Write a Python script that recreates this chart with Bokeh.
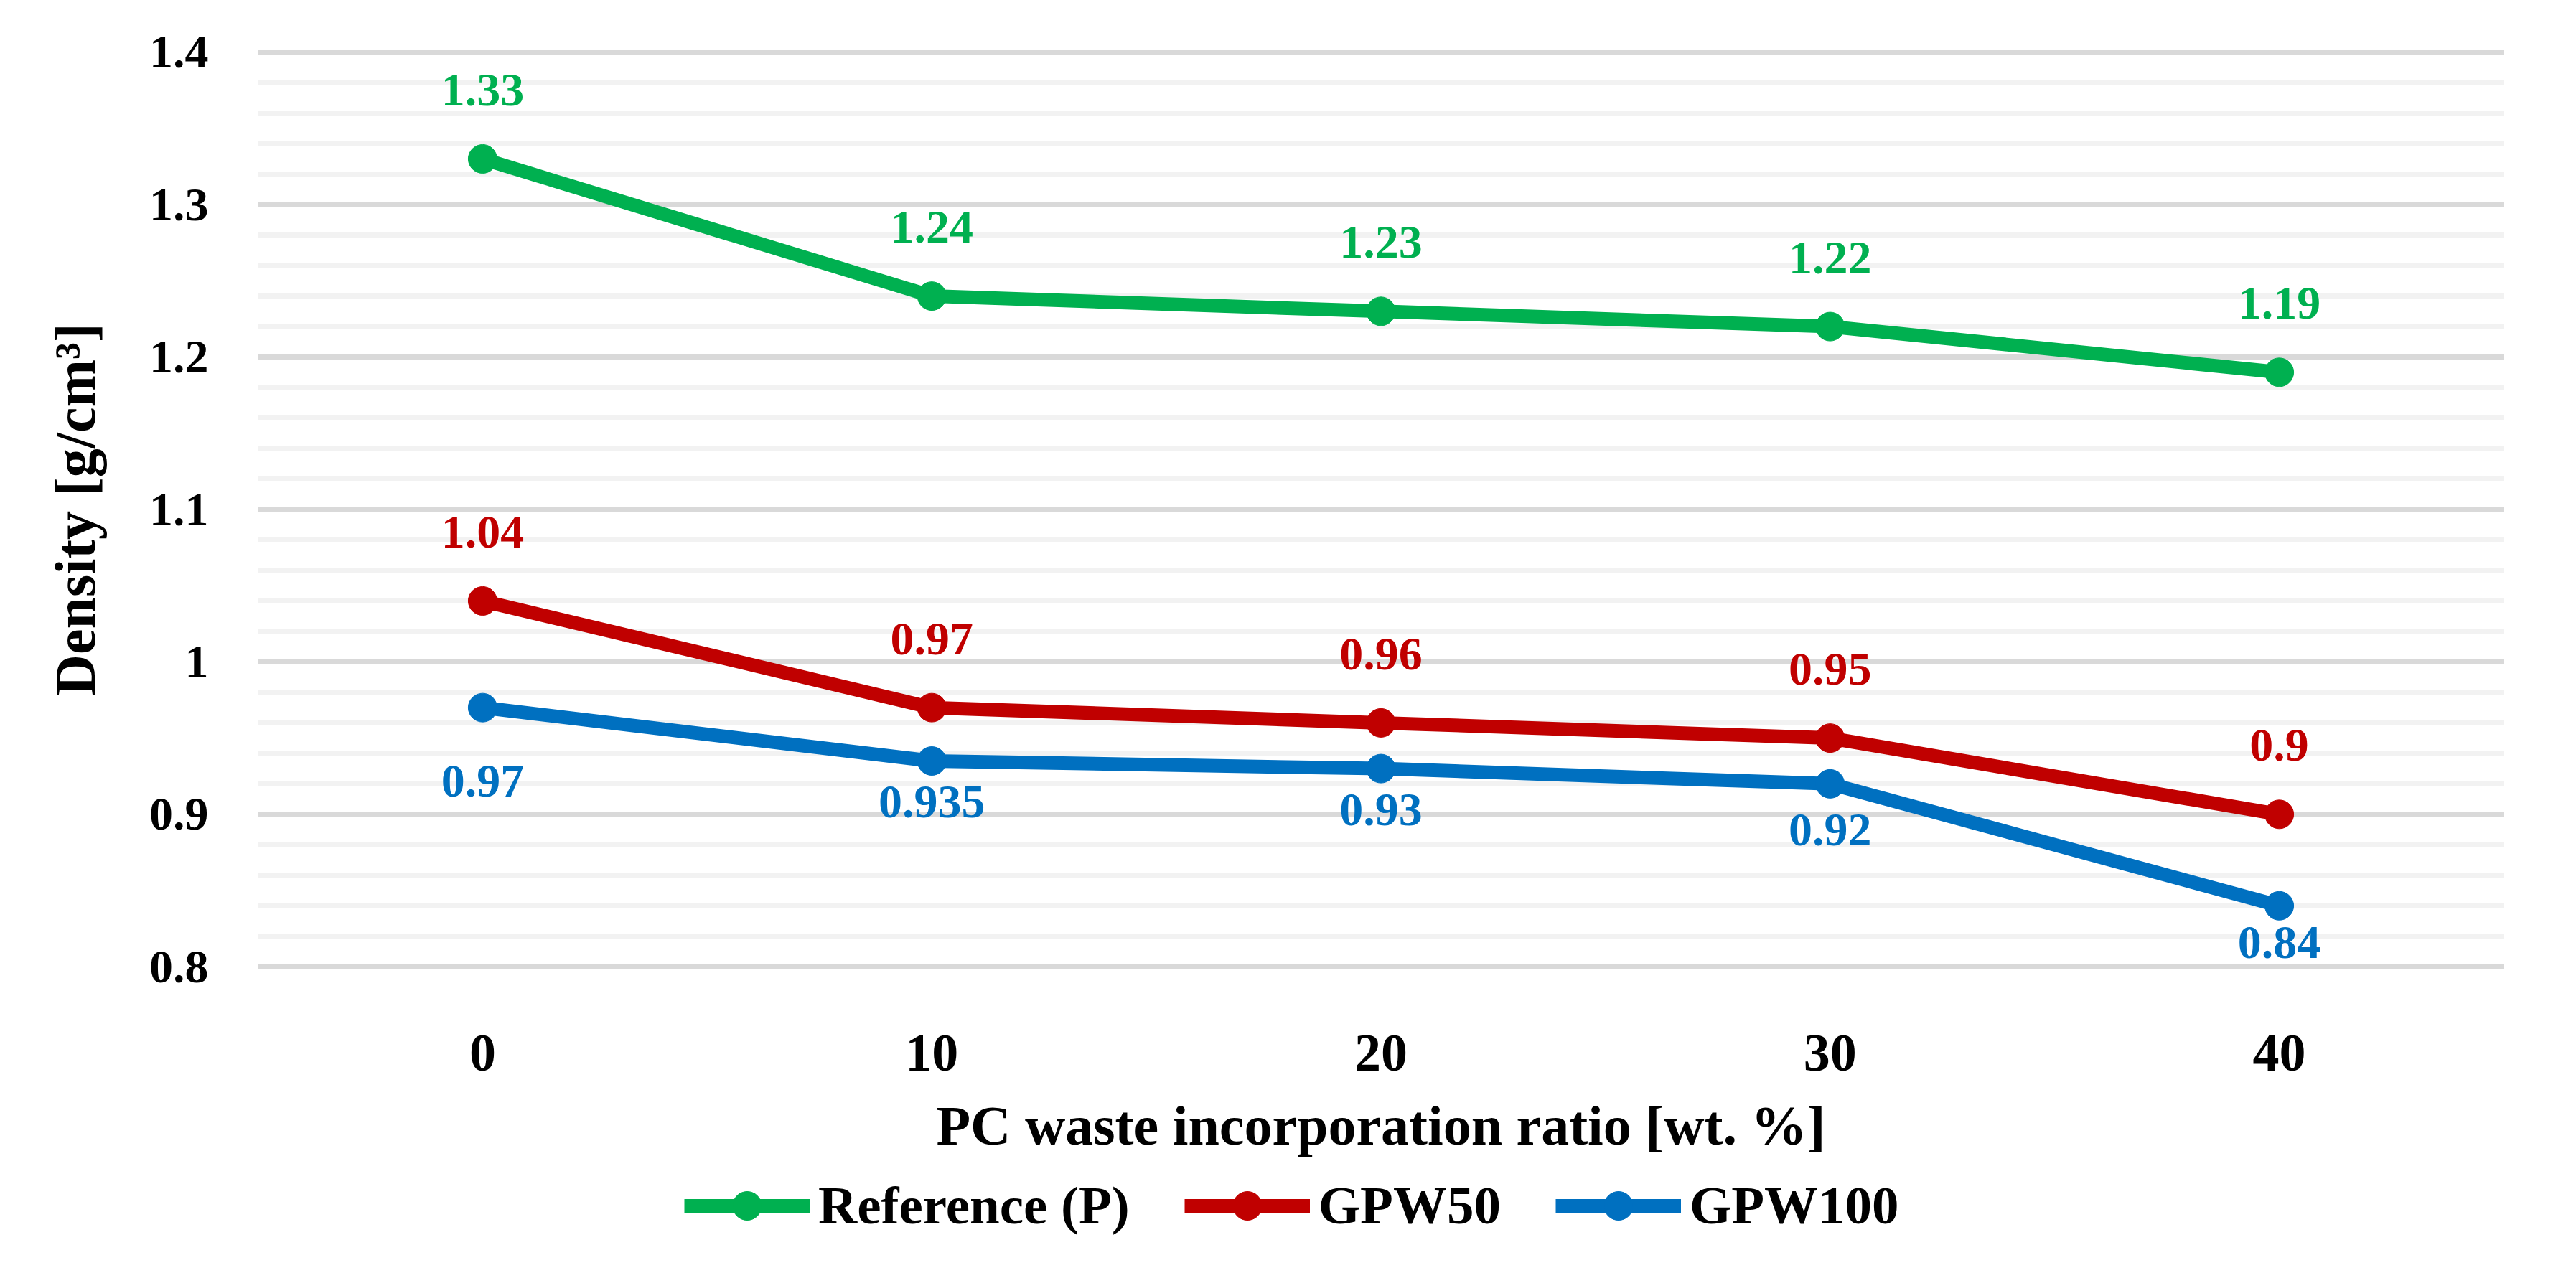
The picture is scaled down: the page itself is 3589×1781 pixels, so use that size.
from bokeh.plotting import figure
from bokeh.layouts import column
from bokeh.models import (ColumnDataSource, LabelSet, Legend, LegendItem,
                          FixedTicker, CustomJSTickFormatter)
from bokeh.core.properties import value
from bokeh.embed import file_html
from bokeh.resources import INLINE

# ---------------- data ----------------
ratios = [0, 10, 20, 30, 40]
x_ticks = [0, 10, 20, 30, 40]
reference_p = [1.33, 1.24, 1.23, 1.22, 1.19]
gpw50 = [1.04, 0.97, 0.96, 0.95, 0.90]
gpw100 = [0.97, 0.935, 0.93, 0.92, 0.84]
y_ticks = [0.8, 0.9, 1.0, 1.1, 1.2, 1.3, 1.4]
series_names = ["Reference (P)", "GPW50", "GPW100"]

# ---------------- style ----------------
FONT = "Liberation Serif"
GREEN, RED, BLUE = "#00B050", "#C00000", "#0070C0"
colors = [GREEN, RED, BLUE]
# label offsets in screen px (positive = above the point)
label_offsets = [
    [96, 96, 96, 96, 96],
    [96, 96, 96, 96, 96],
    [-102, -57, -57, -64, -51],
]

W = 3573
H_MAIN = 1625
H_LEG = 140

p = figure(width=W, height=H_MAIN, x_range=(-5, 45), y_range=(0.798, 1.402),
           output_backend="svg", toolbar_location=None,
           min_border_left=359, min_border_right=85,
           min_border_top=68, min_border_bottom=H_MAIN - 1351)
p.outline_line_color = None
p.background_fill_color = "white"
p.border_fill_color = "white"

# grid
minor = [round(0.8 + 0.02 * i, 2) for i in range(31)]
minor = [m for m in minor if round(m * 10, 6) != round(m * 10)]
p.yaxis.ticker = FixedTicker(ticks=y_ticks, minor_ticks=minor)
p.xaxis.ticker = FixedTicker(ticks=x_ticks)
p.xgrid.grid_line_color = None
p.ygrid.grid_line_color = "#D9D9D9"
p.ygrid.grid_line_width = 7
p.ygrid.minor_grid_line_color = "#F2F2F2"
p.ygrid.minor_grid_line_width = 7

p.yaxis.formatter = CustomJSTickFormatter(code="return (Math.round(tick*100)/100).toString();")

for ax in (p.xaxis[0], p.yaxis[0]):
    ax.axis_line_color = None
    ax.major_tick_line_color = None
    ax.minor_tick_line_color = None
    ax.major_tick_in = 0
    ax.major_tick_out = 0
    ax.minor_tick_in = 0
    ax.minor_tick_out = 0
    ax.major_label_text_font = FONT
    ax.major_label_text_font_style = "bold"
    ax.major_label_text_color = "black"
    ax.axis_label_text_font = FONT
    ax.axis_label_text_font_style = "bold"
    ax.axis_label_text_color = "black"

p.xaxis.axis_label_text_font_size = "78px"
p.yaxis.axis_label_text_font_size = "80px"
p.xaxis.major_label_text_font_size = "74px"
p.yaxis.major_label_text_font_size = "66px"
p.xaxis.major_label_standoff = 91
p.yaxis.major_label_standoff = 69
p.xaxis.axis_label = "PC waste incorporation ratio [wt. %]"
p.yaxis.axis_label = "Density [g/cm³]"
p.xaxis.axis_label_standoff = 30
p.yaxis.axis_label_standoff = 56

all_series = [reference_p, gpw50, gpw100]
for name, vals, col, offs in zip(series_names, all_series, colors, label_offsets):
    src = ColumnDataSource(dict(x=ratios, y=vals, txt=[f"{v:g}" for v in vals], off=offs))
    p.line("x", "y", source=src, line_color=col, line_width=19)
    p.scatter("x", "y", source=src, size=40, fill_color=col, line_color=col)
    lbl = LabelSet(x="x", y="y", text="txt", source=src, y_offset="off",
                   text_align="center", text_baseline="middle",
                   text_font=value(FONT), text_font_style="bold",
                   text_font_size="66px", text_color=col)
    p.add_layout(lbl)

# ---------------- legend strip (frame aligned with main plot) ----------------
pl = figure(width=W, height=H_LEG, x_range=(1000, 1001), y_range=(1000, 1001),
            output_backend="svg", toolbar_location=None,
            x_axis_type=None, y_axis_type=None,
            min_border_left=0, min_border_right=0,
            min_border_top=0, min_border_bottom=0)
pl.outline_line_color = None
pl.grid.visible = False
pl.background_fill_color = "white"
pl.border_fill_color = "white"

items = []
for name, vals, col in zip(series_names, all_series, colors):
    # same series, drawn outside this strip's visible range: only the legend glyphs show
    ln = pl.line(ratios, vals, line_color=col, line_width=19)
    sc = pl.scatter(ratios, vals, size=40, fill_color=col, line_color=col)
    items.append(LegendItem(label=name, renderers=[ln, sc]))

legend = Legend(items=items, orientation="horizontal", location=(594, 35),
                glyph_width=175, glyph_height=100, label_standoff=12, spacing=76,
                padding=0, margin=0, border_line_color=None,
                background_fill_alpha=0,
                label_text_font=FONT, label_text_font_style="bold",
                label_text_font_size="75px", label_text_color="black")
pl.add_layout(legend, "center")

layout = column(p, pl, spacing=0)
open("out.html", "w").write(file_html(layout, INLINE))
